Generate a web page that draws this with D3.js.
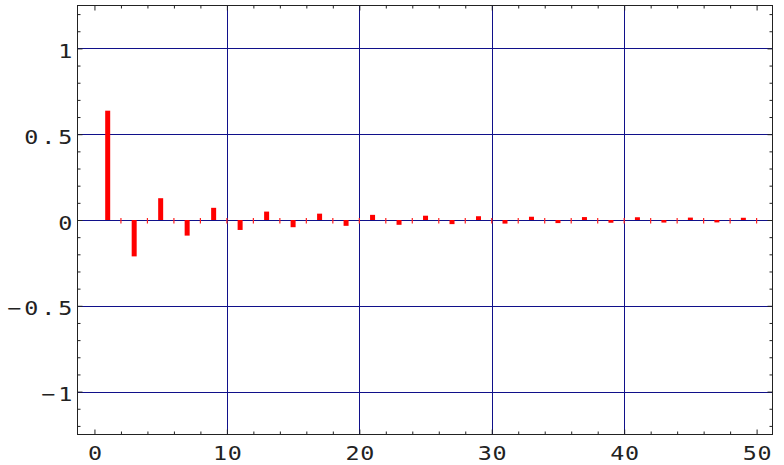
<!DOCTYPE html>
<html>
<head>
<meta charset="utf-8">
<script src="https://cdn.jsdelivr.net/npm/d3@7"></script>
<style>
  body { margin: 0; background: #fff; }
  .tick text { font-family: "DejaVu Sans Mono", monospace; font-size: 20px; fill: #222; }
</style>
</head>
<body>
<div id="viz"></div>
<script>
// harmonic index and coefficient (odd harmonics), even harmonics are zero
const oddN = [1, 3, 5, 7, 9, 11, 13, 15, 17, 19, 21, 23, 25, 27, 29, 31, 33, 35, 37, 39, 41, 43, 45, 47, 49];
const oddVal = [0.637, -0.212, 0.127, -0.091, 0.071, -0.058, 0.049, -0.042, 0.037, -0.034,
  0.030, -0.028, 0.025, -0.024, 0.022, -0.021, 0.019, -0.018, 0.017, -0.016,
  0.016, -0.015, 0.014, -0.014, 0.013];
const evenN = [2, 4, 6, 8, 10, 12, 14, 16, 18, 20, 22, 24, 26, 28, 30, 32, 34, 36, 38, 40, 42, 44, 46, 48, 50];
const xTicks = [0, 10, 20, 30, 40, 50];
const yTicks = [-1, -0.5, 0, 0.5, 1];
const xGrid = [10, 20, 30, 40];

const width = 784, height = 465;
const plot = { left: 77.5, right: 772.5, top: 5.5, bottom: 434.5 };

const svg = d3.select("#viz").append("svg")
  .attr("width", width)
  .attr("height", height);

const x = d3.scaleLinear().domain([-1.28, 51.2]).range([plot.left, plot.right]);
const y = d3.scaleLinear().domain([-1.25, 1.25]).range([plot.bottom, plot.top]);

// grid
svg.append("g").selectAll("line")
  .data(xGrid)
  .enter().append("line")
  .attr("x1", d => Math.round(x(d)) + 0.5).attr("x2", d => Math.round(x(d)) + 0.5)
  .attr("y1", plot.top).attr("y2", plot.bottom)
  .attr("stroke", "#10108a").attr("stroke-width", 1);

svg.append("g").selectAll("line")
  .data(yTicks)
  .enter().append("line")
  .attr("x1", plot.left).attr("x2", plot.right)
  .attr("y1", d => Math.round(y(d)) + 0.5).attr("y2", d => Math.round(y(d)) + 0.5)
  .attr("stroke", "#10108a").attr("stroke-width", 1);

// bars
svg.append("g").selectAll("rect")
  .data(oddN.map((n, i) => ({ n, v: oddVal[i] })))
  .enter().append("rect")
  .attr("x", d => x(d.n) - 2.5)
  .attr("width", 5)
  .attr("y", d => Math.min(y(d.v), y(0)))
  .attr("height", d => Math.abs(y(d.v) - y(0)))
  .attr("fill", "#ff0000");

// zero-height bars
svg.append("g").selectAll("line")
  .data(evenN)
  .enter().append("line")
  .attr("x1", d => x(d)).attr("x2", d => x(d))
  .attr("y1", y(0) - 2).attr("y2", y(0) + 3.5)
  .attr("stroke", "#ff2020").attr("stroke-width", 1.2);

// axes
function styleAxis(g) {
  g.select(".domain").remove();
  g.selectAll(".tick line").attr("stroke", "#222");
}

const xMinor = d3.range(0, 51, 2).filter(d => d % 10 !== 0);
const yMinor = d3.range(-12, 13).map(d => d / 10).filter(d => Math.abs(d * 2 - Math.round(d * 2)) > 1e-6);

svg.append("g").attr("transform", `translate(0,${plot.bottom})`)
  .call(d3.axisBottom(x).tickValues(xMinor).tickSize(-3).tickFormat(""))
  .call(styleAxis);
svg.append("g").attr("transform", `translate(0,${plot.bottom})`)
  .call(d3.axisBottom(x).tickValues(xTicks).tickSize(-5).tickPadding(11).tickFormat(d3.format("d")))
  .call(styleAxis)
  .selectAll("text")
  .attr("transform", "scale(1.17,1)")
  .style("letter-spacing", "0.6px")
  .attr("dx", "0.3");
svg.append("g").attr("transform", `translate(0,${plot.top})`)
  .call(d3.axisTop(x).tickValues(xMinor).tickSize(-3).tickFormat(""))
  .call(styleAxis);
svg.append("g").attr("transform", `translate(0,${plot.top})`)
  .call(d3.axisTop(x).tickValues(xTicks).tickSize(-5).tickFormat(""))
  .call(styleAxis);

svg.append("g").attr("transform", `translate(${plot.left},0)`)
  .call(d3.axisLeft(y).tickValues(yMinor).tickSize(-3).tickFormat(""))
  .call(styleAxis);
svg.append("g").attr("transform", `translate(${plot.left},0)`)
  .call(d3.axisLeft(y).tickValues(yTicks).tickSize(-5).tickPadding(2).tickFormat(d3.format("")))
  .call(styleAxis)
  .selectAll("text")
  .attr("dy", "0.45em")
  .attr("transform", "scale(1.17,1)")
  .style("letter-spacing", "2.5px");
svg.append("g").attr("transform", `translate(${plot.right},0)`)
  .call(d3.axisRight(y).tickValues(yMinor).tickSize(-3).tickFormat(""))
  .call(styleAxis);
svg.append("g").attr("transform", `translate(${plot.right},0)`)
  .call(d3.axisRight(y).tickValues(yTicks).tickSize(-5).tickFormat(""))
  .call(styleAxis);

// frame
svg.append("rect")
  .attr("x", plot.left).attr("y", plot.top)
  .attr("width", plot.right - plot.left).attr("height", plot.bottom - plot.top)
  .attr("fill", "none").attr("stroke", "#222").attr("stroke-width", 1);
</script>
</body>
</html>
